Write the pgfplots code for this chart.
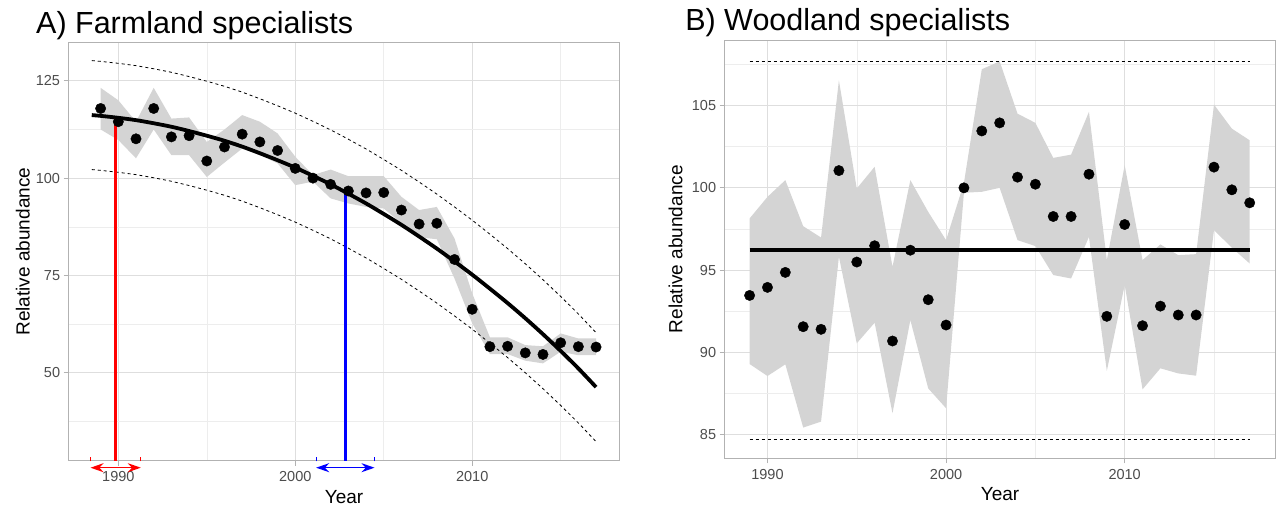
\documentclass[border=0pt]{standalone}
\usepackage{fontspec}
\setmainfont{Liberation Sans}
\usepackage{pgfplots}
\pgfplotsset{compat=1.18}
\usepgfplotslibrary{fillbetween}
\usetikzlibrary{arrows.meta}

\definecolor{ribbon}{gray}{0.83}
\definecolor{gridmaj}{gray}{0.87}
\definecolor{gridmin}{gray}{0.93}
\definecolor{frame}{gray}{0.70}
\definecolor{ticktext}{gray}{0.30}

\pgfplotsset{
  gg/.style={
    scale only axis, width=551pt, height=418pt, clip=false,
    axis line style={frame, line width=1.1pt},
    tick pos=left, tick align=outside,
    major tick length=5pt, minor tick length=0pt,
    tick style={frame, line width=1pt},
    grid=both,
    major grid style={gridmaj, line width=0.9pt},
    minor grid style={gridmin, line width=0.5pt},
    ticklabel style={font=\fontsize{14.5}{14.5}\selectfont, text=ticktext},
    xticklabel style={yshift=-2.5pt},
    xlabel={Year}, ylabel={Relative abundance},
    label style={font=\fontsize{19}{19}\selectfont},
    xlabel style={at={(axis description cs:0.5,-0.086)}, anchor=center},
    % the default title style shifts it up by 6pt: take that back
    title style={font=\fontsize{30.5}{30.5}\selectfont, anchor=base west, inner sep=0pt, yshift=-6pt},
    xtick={1990,2000,2010}, xticklabels={1990,2000,2010},
    minor xtick={1995,2005,2015},
  },
  dots/.style={only marks, mark=*, mark size=5.2pt, black},
  span/.style={line width=1.5pt, arrows={Stealth[length=13pt,width=9pt]-Stealth[length=13pt,width=9pt]}},
}

\begin{document}
\begin{tikzpicture}

% ---------- A) Farmland specialists ----------
\begin{axis}[gg, at={(68.6pt,47.3pt)}, anchor=south west,
  xmin=1987.19, xmax=2018.33, ymin=27.4, ymax=134.8,
  ytick={50,75,100,125}, yticklabels={50,75,100,125},
  minor ytick={37.5,62.5,87.5,112.5},
  ylabel style={at={(axis description cs:-0.083,0.5)}, anchor=center},
  title={A) Farmland specialists},
  title style={at={(axis description cs:-0.0592,1.0225)}},
]
% confidence ribbon
\addplot[name path=au, draw=none, forget plot] coordinates {
(1989,123.2)(1990,120.0)(1991,114.5)(1992,123.2)(1993,115.3)(1994,115.6)
(1995,109.3)(1996,112.5)(1997,116.2)(1998,114.5)(1999,111.5)(2000,105.5)
(2001,100.8)(2002,102.2)(2003,100.5)(2004,100.5)(2005,100.5)(2006,95.2)
(2007,91.8)(2008,92.6)(2009,84.5)(2010,70.4)(2011,59.1)(2012,59.1)
(2013,57.1)(2014,56.8)(2015,60.1)(2016,58.8)(2017,58.8)};
\addplot[name path=al, draw=none, forget plot] coordinates {
(1989,112.5)(1990,109.8)(1991,105.1)(1992,112.5)(1993,105.9)(1994,105.9)
(1995,100.3)(1996,104.0)(1997,107.6)(1998,105.9)(1999,103.8)(2000,98.2)
(2001,99.1)(2002,94.8)(2003,93.5)(2004,92.6)(2005,92.2)(2006,88.4)
(2007,84.8)(2008,84.3)(2009,74.2)(2010,62.7)(2011,54.8)(2012,54.8)
(2013,53.1)(2014,52.4)(2015,55.4)(2016,54.5)(2017,54.5)};
\addplot[fill=ribbon, draw=none] fill between[of=au and al];
% prediction bounds
\addplot[black, line width=0.8pt, dash pattern=on 3pt off 3pt] coordinates {
(1988.5,130.2)(1989,130.0)(1990,129.5)(1991,128.9)(1992,128.1)(1993,127.2)
(1994,126.1)(1995,124.9)(1996,123.6)(1997,122.1)(1998,120.4)(1999,118.6)
(2000,116.7)(2001,114.6)(2002,112.4)(2003,110.0)(2004,107.5)(2005,104.8)
(2006,102.0)(2007,99.0)(2008,95.9)(2009,92.6)(2010,89.2)(2011,85.6)
(2012,81.9)(2013,78.0)(2014,73.9)(2015,69.6)(2016,65.1)(2017,60.3)};
\addplot[black, line width=0.8pt, dash pattern=on 3pt off 3pt] coordinates {
(1988.5,102.2)(1989,102.0)(1990,101.5)(1991,100.9)(1992,100.1)(1993,99.2)
(1994,98.1)(1995,96.9)(1996,95.6)(1997,94.1)(1998,92.4)(1999,90.6)
(2000,88.7)(2001,86.6)(2002,84.4)(2003,82.0)(2004,79.5)(2005,76.8)
(2006,74.0)(2007,71.0)(2008,67.9)(2009,64.6)(2010,61.2)(2011,57.6)
(2012,53.9)(2013,50.0)(2014,45.9)(2015,41.6)(2016,37.1)(2017,32.3)};
% fitted trend
\addplot[black, line width=3.8pt, smooth] coordinates {
(1988.5,116.2)(1989,116.0)(1990,115.5)(1991,114.9)(1992,114.1)(1993,113.2)
(1994,112.1)(1995,110.9)(1996,109.6)(1997,108.1)(1998,106.4)(1999,104.6)
(2000,102.7)(2001,100.6)(2002,98.4)(2003,96.0)(2004,93.5)(2005,90.8)
(2006,88.0)(2007,85.0)(2008,81.9)(2009,78.6)(2010,75.2)(2011,71.6)
(2012,67.9)(2013,64.0)(2014,59.9)(2015,55.6)(2016,51.1)(2017,46.3)};
% yearly indices
\addplot[dots] coordinates {
(1989,117.9)(1990,114.5)(1991,110.1)(1992,117.9)(1993,110.6)(1994,110.9)
(1995,104.4)(1996,108.0)(1997,111.3)(1998,109.3)(1999,107.1)(2000,102.5)
(2001,100.0)(2002,98.4)(2003,96.7)(2004,96.2)(2005,96.3)(2006,91.8)
(2007,88.2)(2008,88.4)(2009,79.1)(2010,66.3)(2011,56.7)(2012,56.8)
(2013,55.1)(2014,54.7)(2015,57.7)(2016,56.7)(2017,56.6)};
% change points
\addplot[red, line width=3.4pt] coordinates {(1989.85,27.4)(1989.85,115.4)};
\addplot[blue, line width=3.4pt] coordinates {(2002.83,27.4)(2002.83,96.5)};
\addplot[red, span] coordinates {(1988.43,25.6)(1991.27,25.6)};
\addplot[red, line width=1pt] coordinates {(1988.43,27.2)(1988.43,28.3)};
\addplot[red, line width=1pt] coordinates {(1991.27,27.2)(1991.27,28.3)};
\addplot[blue, span] coordinates {(2001.18,25.6)(2004.48,25.6)};
\addplot[blue, line width=1pt] coordinates {(2001.18,27.2)(2001.18,28.3)};
\addplot[blue, line width=1pt] coordinates {(2004.48,27.2)(2004.48,28.3)};
\end{axis}

% ---------- B) Woodland specialists ----------
\begin{axis}[gg, at={(724.6pt,49.7pt)}, anchor=south west,
  xmin=1987.6, xmax=2018.45, ymin=83.56, ymax=108.97,
  ytick={85,90,95,100,105}, yticklabels={85,90,95,100,105},
  minor ytick={87.5,92.5,97.5,102.5,107.5},
  ylabel style={at={(axis description cs:-0.089,0.5)}, anchor=center},
  title={B) Woodland specialists},
  title style={at={(axis description cs:-0.0717,1.0225)}},
]
\addplot[name path=bu, draw=none, forget plot] coordinates {
(1989,98.14)(1990,99.45)(1991,100.47)(1992,97.67)(1993,96.98)(1994,106.54)
(1995,99.96)(1996,101.28)(1997,95.20)(1998,100.47)(1999,98.54)(2000,96.82)
(2001,100.3)(2002,107.21)(2003,107.69)(2004,104.51)(2005,103.95)(2006,101.82)
(2007,102.02)(2008,104.62)(2009,95.61)(2010,101.38)(2011,95.61)(2012,96.56)
(2013,95.91)(2014,95.97)(2015,105.06)(2016,103.60)(2017,102.89)};
\addplot[name path=bl, draw=none, forget plot] coordinates {
(1989,89.29)(1990,88.56)(1991,89.27)(1992,85.43)(1993,85.79)(1994,95.81)
(1995,90.55)(1996,91.80)(1997,86.30)(1998,91.96)(1999,87.81)(2000,86.60)
(2001,99.7)(2002,99.76)(2003,100.0)(2004,96.82)(2005,96.46)(2006,94.70)
(2007,94.49)(2008,97.02)(2009,88.87)(2010,94.09)(2011,87.75)(2012,89.03)
(2013,88.72)(2014,88.58)(2015,97.43)(2016,96.36)(2017,95.40)};
\addplot[fill=ribbon, draw=none] fill between[of=bu and bl];
\addplot[black, line width=0.8pt, dash pattern=on 3pt off 3pt] coordinates {(1989,107.69)(2017,107.69)};
\addplot[black, line width=0.8pt, dash pattern=on 3pt off 3pt] coordinates {(1989,84.72)(2017,84.72)};
\addplot[black, line width=3.8pt] coordinates {(1989,96.21)(2017,96.21)};
\addplot[dots] coordinates {
(1989,93.46)(1990,93.95)(1991,94.86)(1992,91.56)(1993,91.40)(1994,101.05)
(1995,95.49)(1996,96.48)(1997,90.69)(1998,96.21)(1999,93.20)(2000,91.66)
(2001,100.0)(2002,103.46)(2003,103.95)(2004,100.65)(2005,100.22)(2006,98.26)
(2007,98.26)(2008,100.83)(2009,92.19)(2010,97.77)(2011,91.62)(2012,92.81)
(2013,92.27)(2014,92.27)(2015,101.26)(2016,99.88)(2017,99.09)};
\end{axis}
\path (0,0) rectangle (1278pt,508pt);
\end{tikzpicture}
\end{document}
